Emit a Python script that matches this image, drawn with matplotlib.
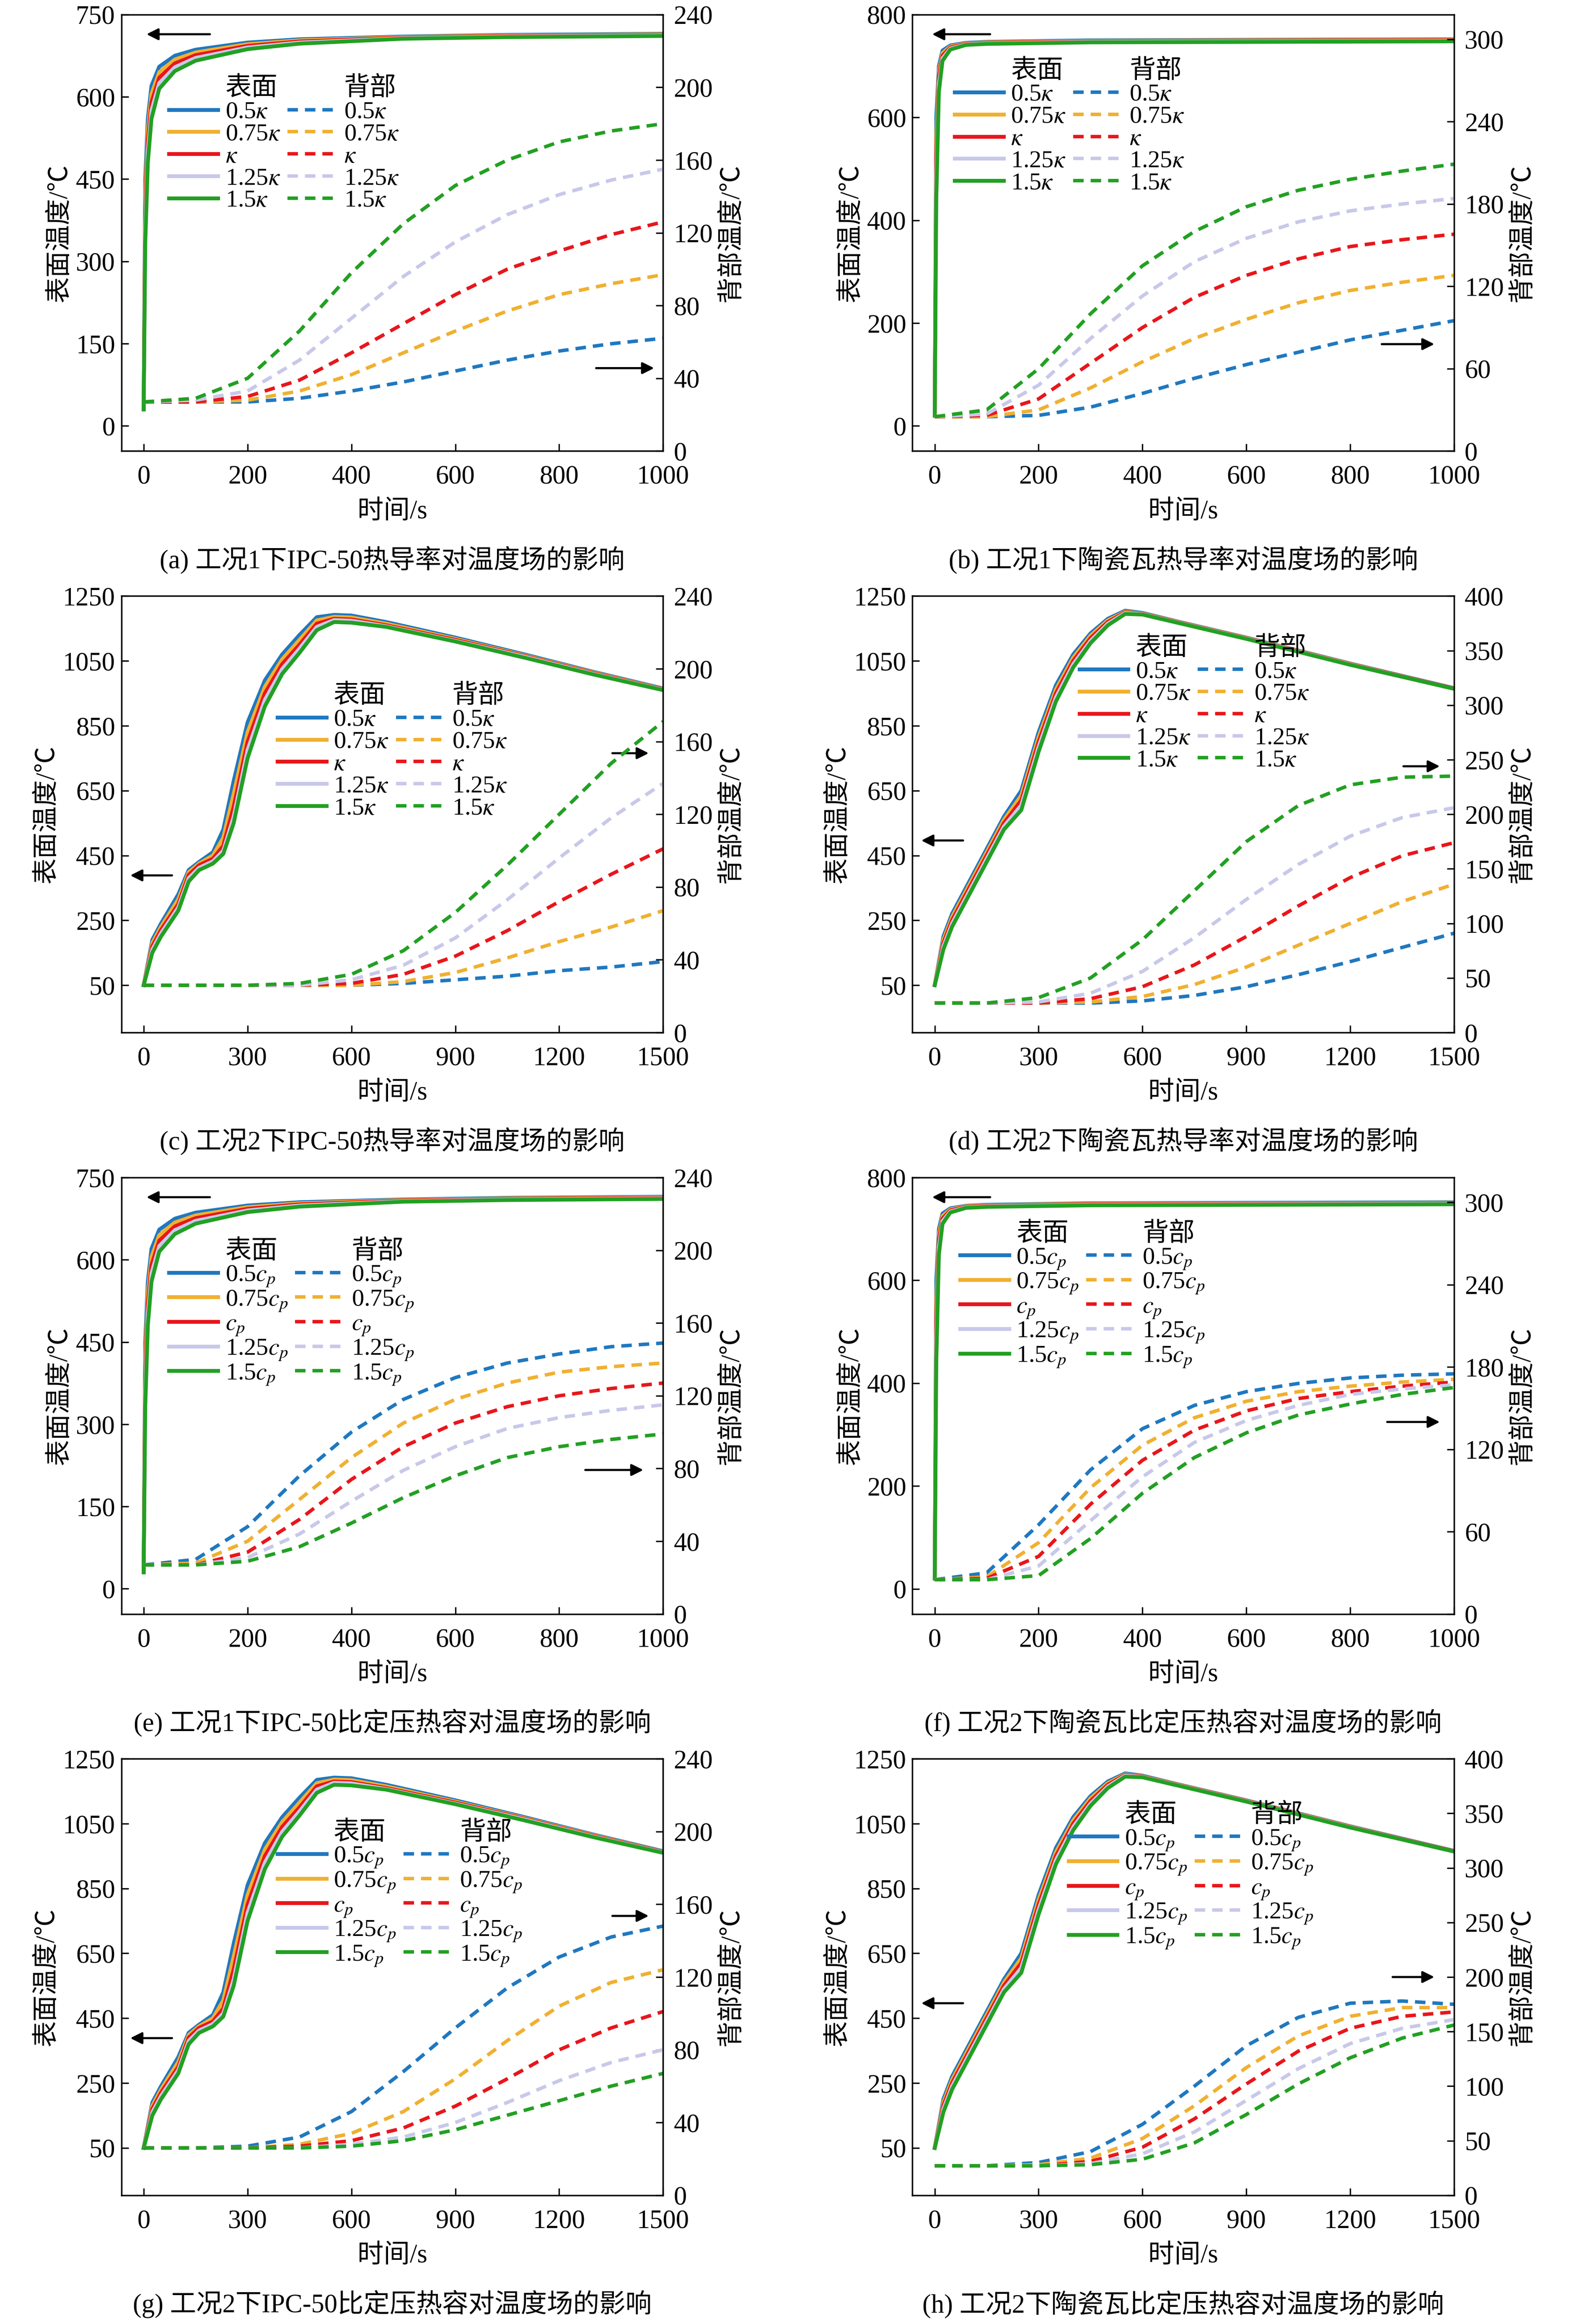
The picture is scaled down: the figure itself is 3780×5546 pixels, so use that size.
import matplotlib.pyplot as plt
from matplotlib.lines import Line2D

plt.rcParams['font.family'] = ['Liberation Serif', 'Noto Sans CJK SC']
plt.rcParams['mathtext.fontset'] = 'stix'
plt.rcParams['font.size'] = 14

colors = ['#1f78c0', '#f0b030', '#e8161b', '#c8c8ea', '#22a022']

# ---- time grids ----
t_back_1000 = [0, 100, 200, 300, 400, 500, 600, 700, 800, 900, 1000]
t_back_1500 = [0, 150, 300, 450, 600, 750, 900, 1050, 1200, 1350, 1500]
t_surf_a = [0, 3, 8, 15, 30, 60, 100, 200, 300, 500, 700, 1000]
t_surf_b = [0, 3, 8, 15, 30, 60, 100, 300, 1000]
t_surf_c = [0, 25, 50, 100, 130, 160, 200, 230, 260, 300, 350, 400, 450, 500, 550, 600, 700, 900, 1100, 1300, 1500]
t_surf_d = [0, 25, 50, 100, 150, 200, 250, 300, 350, 400, 450, 500, 550, 600, 700, 900, 1200, 1500]

# ---- surface curves (0.5, 0.75, 1, 1.25, 1.5) ----
surf_a = [
    [30, 450, 560, 620, 655, 675, 686, 699, 705, 710, 713, 715],
    [30, 420, 540, 605, 645, 668, 681, 696, 703, 709, 712, 714],
    [30, 390, 520, 590, 635, 661, 676, 693, 701, 708, 711, 713],
    [30, 360, 500, 575, 625, 654, 671, 690, 699, 707, 710, 712],
    [30, 330, 480, 560, 615, 647, 666, 687, 697, 706, 709, 711],
]
surf_b = [
    [20, 600, 700, 730, 740, 745, 747, 750, 752],
    [20, 560, 690, 725, 738, 744, 746, 749, 751],
    [20, 520, 680, 720, 736, 743, 745, 748, 750],
    [20, 480, 665, 715, 734, 742, 744, 747, 749],
    [20, 440, 650, 710, 732, 741, 743, 746, 748],
]
surf_c = [
    [50, 190, 240, 330, 405, 430, 460, 530, 680, 860, 990, 1070, 1130, 1185, 1192, 1190, 1170, 1122, 1070, 1016, 965],
    [50, 180, 230, 315, 398, 425, 450, 505, 640, 830, 970, 1055, 1115, 1175, 1186, 1184, 1165, 1118, 1067, 1014, 963],
    [50, 170, 220, 300, 390, 420, 440, 480, 600, 800, 950, 1040, 1100, 1165, 1180, 1178, 1160, 1115, 1065, 1012, 962],
    [50, 160, 210, 290, 380, 412, 432, 465, 570, 775, 930, 1025, 1088, 1155, 1176, 1174, 1157, 1112, 1063, 1010, 961],
    [50, 150, 200, 280, 370, 405, 425, 455, 550, 750, 910, 1010, 1075, 1145, 1170, 1168, 1155, 1110, 1060, 1008, 960],
]
surf_d = [
    [50, 200, 270, 370, 470, 570, 650, 830, 975, 1070, 1135, 1180, 1205, 1198, 1172, 1122, 1042, 966],
    [50, 190, 260, 360, 460, 560, 635, 815, 962, 1060, 1128, 1175, 1202, 1196, 1171, 1121, 1041, 965],
    [50, 180, 250, 350, 450, 550, 620, 800, 950, 1050, 1120, 1170, 1200, 1195, 1170, 1120, 1040, 965],
    [50, 170, 240, 340, 440, 540, 605, 785, 938, 1040, 1112, 1165, 1198, 1194, 1169, 1119, 1039, 964],
    [50, 160, 230, 330, 430, 530, 590, 770, 925, 1030, 1105, 1160, 1195, 1193, 1168, 1118, 1038, 964],
]

# ---- back curves (0.5, 0.75, 1, 1.25, 1.5) ----
back_a = [
    [27, 27, 27, 29, 33, 38, 44, 50, 55, 59, 62],
    [27, 27, 28, 33, 42, 54, 66, 77, 86, 92, 97],
    [27, 27, 30, 39, 54, 70, 86, 100, 110, 119, 126],
    [27, 28, 33, 50, 73, 96, 115, 130, 141, 149, 155],
    [27, 29, 40, 66, 98, 125, 146, 160, 170, 176, 180],
]
back_b = [
    [25, 25, 26, 32, 42, 53, 63, 72, 81, 88, 95],
    [25, 25, 30, 46, 65, 82, 96, 108, 117, 123, 128],
    [25, 26, 38, 64, 90, 112, 128, 140, 149, 154, 158],
    [25, 27, 48, 82, 113, 138, 155, 167, 175, 180, 184],
    [25, 30, 60, 100, 135, 160, 178, 190, 198, 204, 209],
]
back_c = [
    [26, 26, 26, 26, 26, 27, 29, 31, 34, 36, 39],
    [26, 26, 26, 26, 26, 28, 33, 41, 50, 58, 67],
    [26, 26, 26, 26, 27, 32, 42, 56, 72, 87, 101],
    [26, 26, 26, 26, 29, 37, 52, 73, 96, 118, 137],
    [26, 26, 26, 27, 32, 45, 66, 92, 120, 148, 171],
]
back_d = [
    [27, 27, 27, 27, 29, 34, 42, 53, 65, 78, 91],
    [27, 27, 27, 28, 33, 44, 60, 80, 100, 120, 136],
    [27, 27, 27, 31, 42, 62, 88, 116, 142, 162, 174],
    [27, 27, 28, 36, 56, 87, 122, 154, 180, 197, 206],
    [27, 27, 32, 50, 85, 130, 175, 208, 227, 234, 235],
]
back_e = [
    [27, 30, 48, 76, 100, 118, 130, 138, 143, 147, 149],
    [27, 28, 40, 63, 86, 105, 118, 127, 133, 136, 138],
    [27, 27, 34, 52, 74, 92, 105, 114, 120, 124, 127],
    [27, 27, 31, 44, 62, 79, 92, 102, 108, 112, 115],
    [27, 27, 29, 37, 50, 64, 76, 86, 92, 96, 99],
]
back_f = [
    [25, 30, 65, 105, 135, 152, 162, 168, 172, 174, 175],
    [25, 27, 52, 92, 123, 143, 155, 162, 166, 169, 171],
    [25, 26, 42, 80, 112, 134, 148, 157, 162, 166, 169],
    [25, 25, 35, 68, 100, 125, 141, 152, 160, 164, 167],
    [25, 25, 28, 55, 88, 114, 132, 145, 153, 160, 165],
]
back_g = [
    [26, 26, 27, 32, 46, 68, 92, 114, 131, 142, 148],
    [26, 26, 26, 28, 34, 46, 64, 85, 104, 117, 124],
    [26, 26, 26, 27, 30, 37, 49, 64, 80, 92, 101],
    [26, 26, 26, 26, 28, 32, 40, 51, 63, 73, 80],
    [26, 26, 26, 26, 27, 30, 36, 44, 52, 60, 67],
]
back_h = [
    [27, 27, 30, 40, 65, 100, 137, 163, 176, 178, 175],
    [27, 27, 28, 34, 52, 82, 117, 146, 164, 172, 172],
    [27, 27, 27, 31, 44, 70, 102, 132, 153, 164, 168],
    [27, 27, 27, 29, 38, 58, 87, 116, 139, 153, 161],
    [27, 27, 27, 28, 33, 48, 74, 102, 126, 144, 156],
]

labels_k = ['0.5$\\kappa$', '0.75$\\kappa$', '$\\kappa$', '1.25$\\kappa$', '1.5$\\kappa$']
labels_c = ['0.5$c_p$', '0.75$c_p$', '$c_p$', '1.25$c_p$', '1.5$c_p$']

captions = [
    '(a) 工况1下IPC-50热导率对温度场的影响', '(b) 工况1下陶瓷瓦热导率对温度场的影响',
    '(c) 工况2下IPC-50热导率对温度场的影响', '(d) 工况2下陶瓷瓦热导率对温度场的影响',
    '(e) 工况1下IPC-50比定压热容对温度场的影响', '(f) 工况2下陶瓷瓦比定压热容对温度场的影响',
    '(g) 工况2下IPC-50比定压热容对温度场的影响', '(h) 工况2下陶瓷瓦比定压热容对温度场的影响',
]

short_l = ([-46, 750], [0, 150, 300, 450, 600, 750])
short_lb = ([-49, 800], [0, 200, 400, 600, 800])
long_l = ([-96, 1250], [50, 250, 450, 650, 850, 1050, 1250])
panels = [
    (t_surf_a, surf_a, t_back_1000, back_a, labels_k, 1000, short_l, ([0, 240], range(0, 241, 40)), (0.07, 0.88), (0.04, 0.955, 0.17), (0.87, 0.19, 0.99)),
    (t_surf_b, surf_b, t_back_1000, back_b, labels_k, 1000, short_lb, ([0, 318], range(0, 301, 60)), (0.06, 0.92), (0.03, 0.955, 0.15), (0.86, 0.245, 0.97)),
    (t_surf_c, surf_c, t_back_1500, back_c, labels_k, 1500, long_l, ([0, 240], range(0, 241, 40)), (0.27, 0.82), (0.01, 0.36, 0.1), (0.9, 0.64, 0.98)),
    (t_surf_d, surf_d, t_back_1500, back_d, labels_k, 1500, long_l, ([0, 400], range(0, 401, 50)), (0.29, 0.93), (0.01, 0.44, 0.1), (0.9, 0.61, 0.98)),
    (t_surf_a, surf_a, t_back_1000, back_e, labels_c, 1000, short_l, ([0, 240], range(0, 241, 40)), (0.07, 0.88), (0.04, 0.955, 0.17), (0.85, 0.33, 0.97)),
    (t_surf_b, surf_b, t_back_1000, back_f, labels_c, 1000, short_lb, ([0, 318], range(0, 301, 60)), (0.07, 0.92), (0.03, 0.955, 0.15), (0.87, 0.44, 0.98)),
    (t_surf_c, surf_c, t_back_1500, back_g, labels_c, 1500, long_l, ([0, 240], range(0, 241, 40)), (0.27, 0.88), (0.01, 0.36, 0.1), (0.9, 0.64, 0.98)),
    (t_surf_d, surf_d, t_back_1500, back_h, labels_c, 1500, long_l, ([0, 400], range(0, 401, 50)), (0.27, 0.92), (0.01, 0.44, 0.1), (0.88, 0.5, 0.97)),
]

fig = plt.figure(figsize=(12.6, 18.487), dpi=300)
lefts = [0.0766, 0.576]
bottoms = [0.8059, 0.5557, 0.3055, 0.0554]
cap_y = [0.753, 0.503, 0.2527, 0.0025]
W, H = 0.342, 0.1878

for i, p in enumerate(panels):
    ts, surf, tb, back, labs, xmax, (lyl, lyt), (ryl, ryt), leg_pos, larr, rarr = p
    r, c = divmod(i, 2)
    ax = fig.add_axes([lefts[c], bottoms[r], W, H])
    ax2 = ax.twinx()
    hs, hb = [], []
    for k in range(5):
        h, = ax.plot(ts, surf[k], color=colors[k], lw=2.2)
        hs.append(h)
        hh, = ax2.plot(tb, back[k], color=colors[k], lw=2.0, ls=(0, (3, 2)))
        hb.append(hh)
    ax.set_xlim(-0.043 * xmax, xmax)
    ax.set_ylim(*lyl)
    ax.set_yticks(lyt)
    ax2.set_ylim(*ryl)
    ax2.set_yticks(list(ryt))
    ax.set_xticks(range(0, xmax + 1, 200 if xmax == 1000 else 300))
    for a in (ax, ax2):
        a.tick_params(direction='in', labelsize=15, length=4)
    ax.tick_params(axis='x', pad=8)
    ax2.tick_params(axis='y', pad=6)
    ax.set_xlabel('时间/s', fontsize=15, labelpad=6)
    ax.set_ylabel('表面温度/℃', fontsize=15, labelpad=2)
    ax2.set_ylabel('背部温度/℃', fontsize=15, labelpad=4)

    blank = Line2D([], [], color='none')
    handles = [blank] + hs + [blank] + hb
    lab = ['表面'] + labs + ['背部'] + labs
    leg = ax2.legend(handles, lab, ncol=2, loc='upper left', bbox_to_anchor=leg_pos,
                     frameon=False, fontsize=14, handlelength=2.0, handletextpad=0.3,
                     columnspacing=0.3, labelspacing=0.0, borderaxespad=0)
    for t in leg.get_texts():
        if t.get_text() in ('表面', '背部'):
            t.set_fontsize(15)

    ax.annotate('', xy=(larr[0], larr[1]), xytext=(larr[2], larr[1]), xycoords='axes fraction',
                arrowprops=dict(arrowstyle='-|>', color='k', lw=1.2))
    ax.annotate('', xy=(rarr[2], rarr[1]), xytext=(rarr[0], rarr[1]), xycoords='axes fraction',
                arrowprops=dict(arrowstyle='-|>', color='k', lw=1.2))

    fig.text(lefts[c] + W / 2, cap_y[r], captions[i], ha='center', va='bottom', fontsize=15)

fig.savefig('out.png', dpi=300)
